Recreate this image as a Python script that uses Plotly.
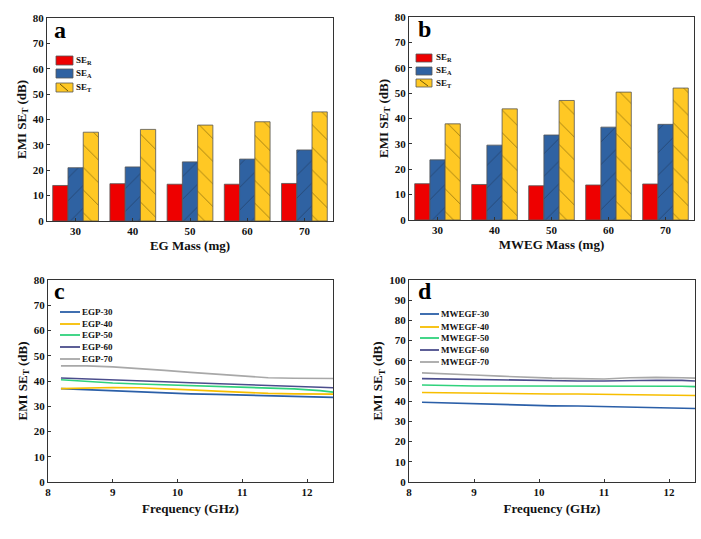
import plotly.graph_objects as go

mass = ["30", "40", "50", "60", "70"]
a_ser = [14.0, 14.7, 14.5, 14.5, 14.8]
a_sea = [21.0, 21.3, 23.3, 24.4, 28.0]
a_set = [35.0, 36.1, 37.8, 39.1, 43.0]
b_ser = [14.3, 14.0, 13.5, 13.8, 14.2]
b_sea = [23.7, 29.5, 33.5, 36.6, 37.7]
b_set = [37.9, 43.8, 47.1, 50.4, 52.0]

freq = [8.2, 8.6, 9.0, 9.4, 9.8, 10.2, 10.6, 11.0, 11.4, 11.8, 12.2, 12.4]
egp30 = [37.0, 36.6, 36.1, 35.6, 35.2, 34.9, 34.7, 34.4, 34.1, 33.9, 33.6, 33.5]
egp40 = [37.0, 37.2, 37.4, 37.3, 37.0, 36.5, 36.0, 35.5, 35.1, 34.9, 34.8, 34.8]
egp50 = [40.5, 39.8, 39.2, 38.8, 38.5, 38.2, 38.0, 37.7, 37.3, 36.9, 36.2, 35.6]
egp60 = [41.2, 40.9, 40.5, 40.1, 39.7, 39.3, 39.0, 38.6, 38.2, 37.9, 37.5, 37.3]
egp70 = [46.0, 46.0, 45.6, 45.0, 44.2, 43.4, 42.7, 41.8, 41.3, 41.1, 41.0, 41.0]
mw30 = [39.5, 39.1, 38.6, 38.2, 37.9, 37.7, 37.6, 37.4, 37.2, 37.0, 36.7, 36.4]
mw40 = [44.3, 44.1, 43.9, 43.8, 43.6, 43.6, 43.6, 43.5, 43.3, 43.2, 43.0, 42.8]
mw50 = [48.0, 47.6, 47.5, 47.5, 47.5, 47.5, 47.6, 47.6, 47.6, 47.6, 47.4, 47.2]
mw60 = [51.2, 51.0, 50.6, 50.3, 50.1, 50.0, 50.0, 50.0, 50.3, 50.4, 50.3, 50.0]
mw70 = [54.0, 53.6, 53.0, 52.4, 51.8, 51.4, 51.2, 51.0, 51.6, 51.8, 51.6, 51.4]

bar_names = ["SE<sub>R</sub>", "SE<sub>A</sub>", "SE<sub>T</sub>"]
egp_names = ["EGP-30", "EGP-40", "EGP-50", "EGP-60", "EGP-70"]
mw_names = ["MWEGF-30", "MWEGF-40", "MWEGF-50", "MWEGF-60", "MWEGF-70"]

FONT = "Liberation Serif"
BAR_COLORS = ["#ee0000", "#2f62a2", "#ffc824"]
BAR_PATTERNS = ["", "/", "\\"]
PAT_COLORS = ["#000", "#1d2f4a", "#4a3a00"]
LC = ["#2b5fa8", "#f7be00", "#2fd27c", "#4b4d8c", "#a8a8a8"]

W, H = 701, 539
fig = go.Figure()

def add_bars(xa, ya, series):
    for name, vals, c, p, pc in zip(bar_names, series, BAR_COLORS, BAR_PATTERNS, PAT_COLORS):
        fig.add_trace(go.Bar(x=mass, y=vals, name=name, showlegend=False, xaxis=xa, yaxis=ya,
                             marker=dict(color=c, line=dict(color="#555", width=0.8),
                                         pattern=dict(shape=p, fgcolor=pc, size=16, solidity=0.06))))

add_bars("x", "y", [a_ser, a_sea, a_set])
add_bars("x2", "y2", [b_ser, b_sea, b_set])

for name, vals, c in zip(egp_names, [egp30, egp40, egp50, egp60, egp70], LC):
    fig.add_trace(go.Scatter(x=freq, y=vals, mode="lines", name=name, showlegend=False,
                             line=dict(color=c, width=1.6), xaxis="x3", yaxis="y3"))
for name, vals, c in zip(mw_names, [mw30, mw40, mw50, mw60, mw70], LC):
    fig.add_trace(go.Scatter(x=freq, y=vals, mode="lines", name=name, showlegend=False,
                             line=dict(color=c, width=1.6), xaxis="x4", yaxis="y4"))

def dx(a, b): return [a / W, b / W]
def dy(top, bot): return [(H - bot) / H, (H - top) / H]
def px(x): return x / W
def py(y): return (H - y) / H

tickf = dict(family=FONT, size=11, color="#111", weight="bold")
titf = dict(family=FONT, size=13, color="#111", weight="bold")
ax = dict(showline=True, linecolor="#333", linewidth=1, mirror=True, ticks="inside", ticklen=3,
          tickcolor="#333", showgrid=False, zeroline=False, tickfont=tickf, automargin=False)
ytitle = dict(text="EMI SE<sub>T</sub> (dB)", font=titf, standoff=3)

fig.update_layout(
    width=W, height=H, margin=dict(l=0, r=0, t=0, b=0, autoexpand=False),
    paper_bgcolor="white", plot_bgcolor="white",
    barmode="group", bargap=0.2, bargroupgap=0,
    xaxis=dict(ax, domain=dx(47, 333), anchor="y", type="category",
               title=dict(text="EG Mass (mg)", font=titf, standoff=4)),
    yaxis=dict(ax, domain=dy(18, 221), anchor="x", range=[0, 80], dtick=10, title=ytitle),
    xaxis2=dict(ax, domain=dx(409, 694), anchor="y2", type="category",
                title=dict(text="MWEG Mass (mg)", font=titf, standoff=4)),
    yaxis2=dict(ax, domain=dy(17, 220), anchor="x2", range=[0, 80], dtick=10, title=ytitle),
    xaxis3=dict(ax, domain=dx(48, 333), anchor="y3", range=[8, 12.4], dtick=1,
                title=dict(text="Frequency (GHz)", font=titf, standoff=6)),
    yaxis3=dict(ax, domain=dy(280, 482), anchor="x3", range=[0, 80], dtick=10, title=ytitle),
    xaxis4=dict(ax, domain=dx(409, 695), anchor="y4", range=[8, 12.4], dtick=1,
                title=dict(text="Frequency (GHz)", font=titf, standoff=6)),
    yaxis4=dict(ax, domain=dy(280, 482), anchor="x4", range=[0, 100], dtick=10, title=ytitle),
)

legf = dict(family=FONT, size=9, color="#111", weight="bold")

def bar_legend(x0, x1, tops, hgt, tx):
    for name, c, p, pc, t in zip(bar_names, BAR_COLORS, BAR_PATTERNS, PAT_COLORS, tops):
        fig.add_shape(type="rect", xref="paper", yref="paper", x0=px(x0), x1=px(x1),
                      y0=py(t + hgt), y1=py(t), fillcolor=c, line=dict(color="#555", width=0.8))
        if p == "\\":
            fig.add_shape(type="line", xref="paper", yref="paper", x0=px(x0 + 4), x1=px(x0 + 12),
                          y0=py(t + 1), y1=py(t + hgt - 1), line=dict(color=pc, width=0.8))
        fig.add_annotation(text=name, x=px(tx), y=py(t + hgt / 2), xref="paper", yref="paper",
                           xanchor="left", yanchor="middle", showarrow=False, font=legf)

bar_legend(56, 73, [56, 69, 83], 9, 74)
bar_legend(416, 432, [54, 67, 79], 8, 434)

def line_legend(x0, x1, ys, names, tx):
    for name, c, yy in zip(names, LC, ys):
        fig.add_shape(type="line", xref="paper", yref="paper", x0=px(x0), x1=px(x1),
                      y0=py(yy), y1=py(yy), line=dict(color=c, width=1.8))
        fig.add_annotation(text=name, x=px(tx), y=py(yy), xref="paper", yref="paper",
                           xanchor="left", yanchor="middle", showarrow=False, font=legf)

line_legend(60, 80, [312, 324, 335, 347, 359], egp_names, 80)
line_legend(420, 439, [314, 327, 338, 350, 362], mw_names, 439)

letf = dict(family=FONT, size=24, color="#000", weight="bold")
for txt, x, y in [("a", 52, 15), ("b", 416, 14), ("c", 52, 276), ("d", 416, 276)]:
    fig.add_annotation(text=txt, x=px(x), y=py(y), xref="paper", yref="paper",
                       xanchor="left", yanchor="top", showarrow=False, font=letf)

fig.write_html("out.html", config={"displayModeBar": False},
               post_script="document.body.style.margin='0';document.body.style.overflow='hidden';")
